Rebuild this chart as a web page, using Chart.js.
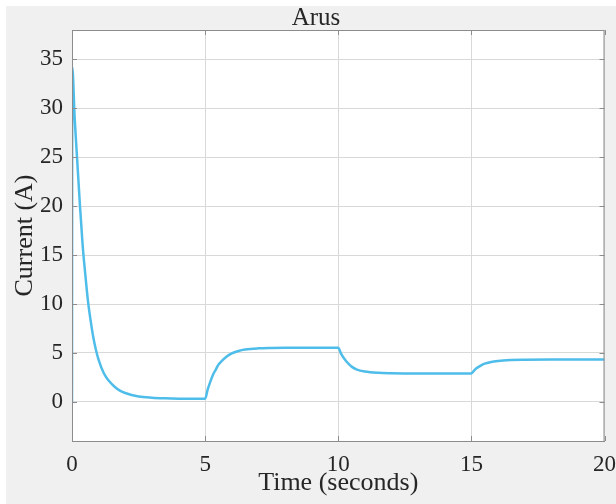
<!DOCTYPE html>
<html>
<head>
<meta charset="utf-8">
<title>Arus</title>
<script src="https://cdn.jsdelivr.net/npm/chart.js@4.4.1/dist/chart.umd.min.js"></script>
<style>
    html, body { margin: 0; padding: 0; background: #ffffff; overflow: hidden; }
    #wrap {
        position: absolute; left: 6px; top: 6px;
        width: 620px; height: 498px; background: #f0f0f0;
    }
    canvas { display: block; }
</style>
</head>
<body>
<div id="wrap"><canvas id="arus" width="620" height="498"></canvas></div>
<script>
// Time samples (seconds) and current readings (A)
const timeSec = [
    0, 0.01, 0.1, 0.2, 0.3, 0.4, 0.5, 0.6, 0.7, 0.8, 0.9, 1.0, 1.2, 1.4, 1.6, 1.8, 2.0, 2.5, 3.0, 3.5, 4.0, 5.0,
    5.1, 5.2, 5.3, 5.4, 5.5, 5.6, 5.8, 6.0, 6.25, 6.5, 7.0, 7.5, 8.0, 10.0,
    10.1, 10.2, 10.3, 10.4, 10.5, 10.7, 11.0, 11.5, 12.0, 13.0, 15.0,
    15.1, 15.2, 15.3, 15.4, 15.5, 15.7, 16.0, 16.5, 17.0, 18.0, 20.0
];
const currentA = [
    0, 34.2, 29.0, 24.5, 20.0, 16.0, 13.0, 10.3, 8.3, 6.6, 5.3, 4.3, 2.9, 2.1, 1.55, 1.15, 0.9, 0.55, 0.42, 0.36, 0.33, 0.32,
    1.3, 2.1, 2.8, 3.3, 3.8, 4.1, 4.6, 4.95, 5.2, 5.35, 5.47, 5.51, 5.53, 5.53,
    4.95, 4.5, 4.15, 3.85, 3.6, 3.3, 3.1, 2.97, 2.93, 2.91, 2.91,
    3.2, 3.45, 3.62, 3.78, 3.9, 4.05, 4.18, 4.27, 4.3, 4.32, 4.32
];
const xTicks = [0, 5, 10, 15, 20];
const yTicks = [0, 5, 10, 15, 20, 25, 30, 35];

const points = timeSec.map((t, i) => ({ x: t, y: currentA[i] }));

const axisGray = '#8c8c8c';

// white plot area, full box and MATLAB-style inward tick marks
const boxPlugin = {
    id: 'box',
    beforeDraw(chart) {
        const { ctx, chartArea: a } = chart;
        ctx.save();
        ctx.fillStyle = '#ffffff';
        ctx.fillRect(a.left, a.top, a.right - a.left, a.bottom - a.top);
        ctx.restore();
    },
    afterDatasetsDraw(chart) {
        const { ctx, chartArea: a, scales } = chart;
        const len = 5;
        ctx.save();
        ctx.strokeStyle = axisGray;
        ctx.lineWidth = 1;
        ctx.strokeRect(a.left + 0.5, a.top + 0.5, a.right - a.left - 1, a.bottom - a.top);
        ctx.beginPath();
        xTicks.forEach(v => {
            const px = Math.round(scales.x.getPixelForValue(v)) + 0.5;
            ctx.moveTo(px, a.bottom); ctx.lineTo(px, a.bottom - len);
            ctx.moveTo(px, a.top); ctx.lineTo(px, a.top + len);
        });
        yTicks.forEach(v => {
            const py = Math.round(scales.y.getPixelForValue(v)) + 0.5;
            ctx.moveTo(a.left, py); ctx.lineTo(a.left + len, py);
            ctx.moveTo(a.right, py); ctx.lineTo(a.right - len, py);
        });
        ctx.stroke();
        ctx.restore();
    }
};

const serif = "'Liberation Serif', 'Times New Roman', serif";
const textColor = '#262626';

new Chart(document.getElementById('arus'), {
    type: 'line',
    data: {
        datasets: [{
            data: points,
            borderColor: '#4fbde9',
            borderWidth: 2.5,
            pointRadius: 0,
            cubicInterpolationMode: 'monotone',
            fill: false
        }]
    },
    options: {
        responsive: false,
        animation: false,
        layout: { padding: { top: 0, right: 0, left: 0, bottom: 0 } },
        plugins: {
            legend: { display: false },
            tooltip: { enabled: false },
            title: {
                display: true,
                text: 'Arus',
                color: textColor,
                font: { family: serif, size: 25, weight: 'normal', lineHeight: 0.96 },
                padding: 0
            }
        },
        scales: {
            x: {
                type: 'linear',
                min: 0,
                max: 20,
                afterBuildTicks: s => { s.ticks = xTicks.map(v => ({ value: v })); },
                afterFit: s => { s.height = 63; },
                grid: { color: '#d9d9d9', drawTicks: false },
                border: { color: axisGray },
                ticks: {
                    color: textColor,
                    padding: 10,
                    maxRotation: 0,
                    font: { family: serif, size: 23 }
                },
                title: {
                    display: true,
                    text: 'Time (seconds)',
                    color: textColor,
                    font: { family: serif, size: 26 },
                    padding: { top: 0, bottom: 5 }
                }
            },
            y: {
                type: 'linear',
                min: -4,
                max: 38,
                afterBuildTicks: s => { s.ticks = yTicks.map(v => ({ value: v })); },
                afterFit: s => { s.width = 66; },
                grid: { color: '#d9d9d9', drawTicks: false },
                border: { color: axisGray },
                ticks: {
                    color: textColor,
                    padding: 9,
                    font: { family: serif, size: 23 }
                },
                title: {
                    display: true,
                    text: 'Current (A)',
                    color: textColor,
                    font: { family: serif, size: 26 },
                    padding: { top: 3.5, bottom: 0 }
                }
            }
        }
    },
    plugins: [boxPlugin]
});
</script>
</body>
</html>
